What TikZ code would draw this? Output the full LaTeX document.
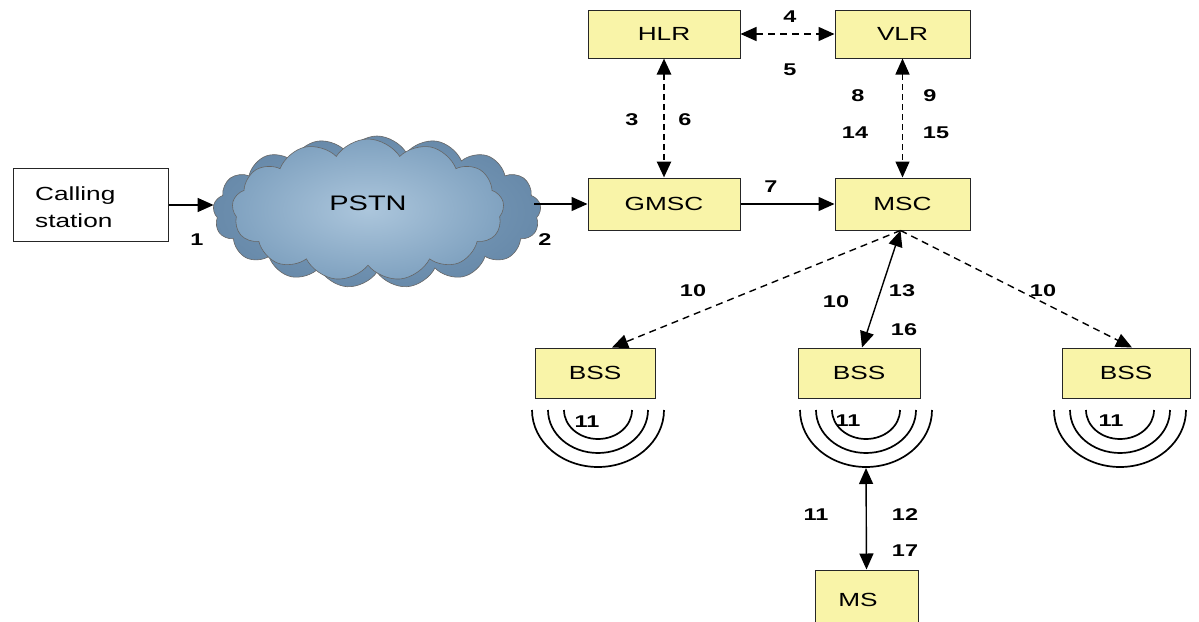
\documentclass[tikz,border=0pt]{standalone}
\usepackage{fontspec}
\setmainfont[FakeStretch=1.38]{Liberation Sans}
\usetikzlibrary{shapes.symbols,arrows.meta,calc}
\definecolor{boxyellow}{RGB}{249,244,168}
\definecolor{cloudlight}{RGB}{172,198,220}
\definecolor{cloudmid}{RGB}{128,162,192}
\definecolor{clouddark}{RGB}{104,138,170}
\begin{document}
\begin{tikzpicture}[x=1pt,y=-1pt,
  box/.style={draw=black!85, fill=boxyellow, line width=1pt, inner sep=0pt, font=\fontsize{19}{22}\selectfont},
  wbox/.style={draw=black!85, fill=white, line width=1pt, inner sep=0pt},
  lbl/.style={font=\bfseries\fontsize{17}{20}\selectfont, inner sep=0pt},
  arr/.style={-{Triangle[length=16pt,width=14pt]}, line width=1.4pt},
  darr/.style={{Triangle[length=16pt,width=14pt]}-{Triangle[length=16pt,width=14pt]}, line width=1.4pt},
  wave/.style={line width=1.7pt}
]
\useasboundingbox (0,0) rectangle (1199,621);
\fill[white] (0,0) rectangle (1199,621);

% nodes
\node[wbox, minimum width=155, minimum height=73] (cs) at (90.5,205) {};
\node[font=\fontsize{19}{27}\selectfont, align=left, anchor=west, inner sep=0pt] (cstext) at (35,207) {Calling\\station};

\node[cloud, cloud puffs=17, cloud puff arc=120, aspect=2.3, minimum width=328, minimum height=152,
      draw=black!60, line width=0.6pt, inner color=cloudmid, outer color=clouddark] (pstnback) at (377,212) {};
\node[cloud, cloud puffs=13, cloud puff arc=115, aspect=2.0, minimum width=272, minimum height=142,
      draw=black!60, line width=0.6pt, inner color=cloudlight, outer color=cloudmid] (pstn) at (368,210) {};
\node[font=\fontsize{21}{24}\selectfont] (pstntext) at (368,203) {PSTN};

\node[box, minimum width=152, minimum height=52] (gmsc) at (664,204) {GMSC};
\node[box, minimum width=135, minimum height=52] (msc) at (902.5,204) {MSC};
\node[box, minimum width=152, minimum height=48] (hlr) at (664,34) {HLR};
\node[box, minimum width=135, minimum height=48] (vlr) at (902.5,34) {VLR};
\node[box, minimum width=120, minimum height=50] (bss1) at (595,373) {BSS};
\node[box, minimum width=122, minimum height=50] (bss2) at (859,373) {BSS};
\node[box, minimum width=128, minimum height=50] (bss3) at (1126,373) {BSS};
\node[box, minimum width=103, minimum height=62] (ms) at (866.5,601) {};
\node[font=\fontsize{19}{22}\selectfont] (mstext) at (858,600) {MS};

% waves
\foreach \cx in {598, 866, 1120}{
  \draw[wave] (\cx-34,410) arc[start angle=180, end angle=0, x radius=34, y radius=29];
  \draw[wave] (\cx-50,410) arc[start angle=180, end angle=0, x radius=50, y radius=43];
  \draw[wave] (\cx-66,410) arc[start angle=180, end angle=0, x radius=66, y radius=57];
}
\coordinate (w2bot) at (866,468);

% connectors
\draw[arr] (cs.east) -- (pstnback.west |- cs.east);
\draw[arr] ($(pstnback.east |- gmsc.west)+(-6,0)$) -- (gmsc.west);
\draw[arr] (gmsc.east) -- (msc.west);
\draw[darr, dash pattern=on 7pt off 5pt] (hlr.east) -- (vlr.west);
\draw[darr, line width=2.6pt, dash pattern=on 6pt off 4pt] (hlr.south) -- (gmsc.north);
\draw[darr, dash pattern=on 6pt off 4pt] (vlr.south) -- (msc.north);
\coordinate (mscb) at ($(msc.south)+(-2,0)$);
\draw[arr, dash pattern=on 7pt off 5pt] (mscb) -- ($(bss1.north)+(17,0)$);
\draw[darr] (mscb) -- ($(bss2.north)+(3,0)$);
\draw[arr, dash pattern=on 7pt off 5pt] (mscb) -- ($(bss3.north)+(6,0)$);
\draw[darr] (w2bot) -- (ms.north);

% labels
\node[lbl] (l1) at (197,240) {1};
\node[lbl] (l2) at (545,240) {2};
\node[lbl] (l3) at (632,120) {3};
\node[lbl] (l6) at (685,120) {6};
\node[lbl] (l4) at (790,17) {4};
\node[lbl] (l5) at (790,70) {5};
\node[lbl] (l7) at (771,187) {7};
\node[lbl] (l8) at (858,96) {8};
\node[lbl] (l9) at (930,96) {9};
\node[lbl] (l14) at (855,133) {14};
\node[lbl] (l15) at (936,133) {15};
\node[lbl] (l10a) at (693,291) {10};
\node[lbl] (l10b) at (836,302) {10};
\node[lbl] (l13) at (902,291) {13};
\node[lbl] (l16) at (904,330) {16};
\node[lbl] (l10c) at (1043,291) {10};
\node[lbl] (l11a) at (587,422) {11};
\node[lbl] (l11b) at (848,421) {11};
\node[lbl] (l11c) at (1111,421) {11};
\node[lbl] (l11d) at (816,515) {11};
\node[lbl] (l12) at (905,515) {12};
\node[lbl] (l17) at (905,551) {17};
\end{tikzpicture}
\end{document}
